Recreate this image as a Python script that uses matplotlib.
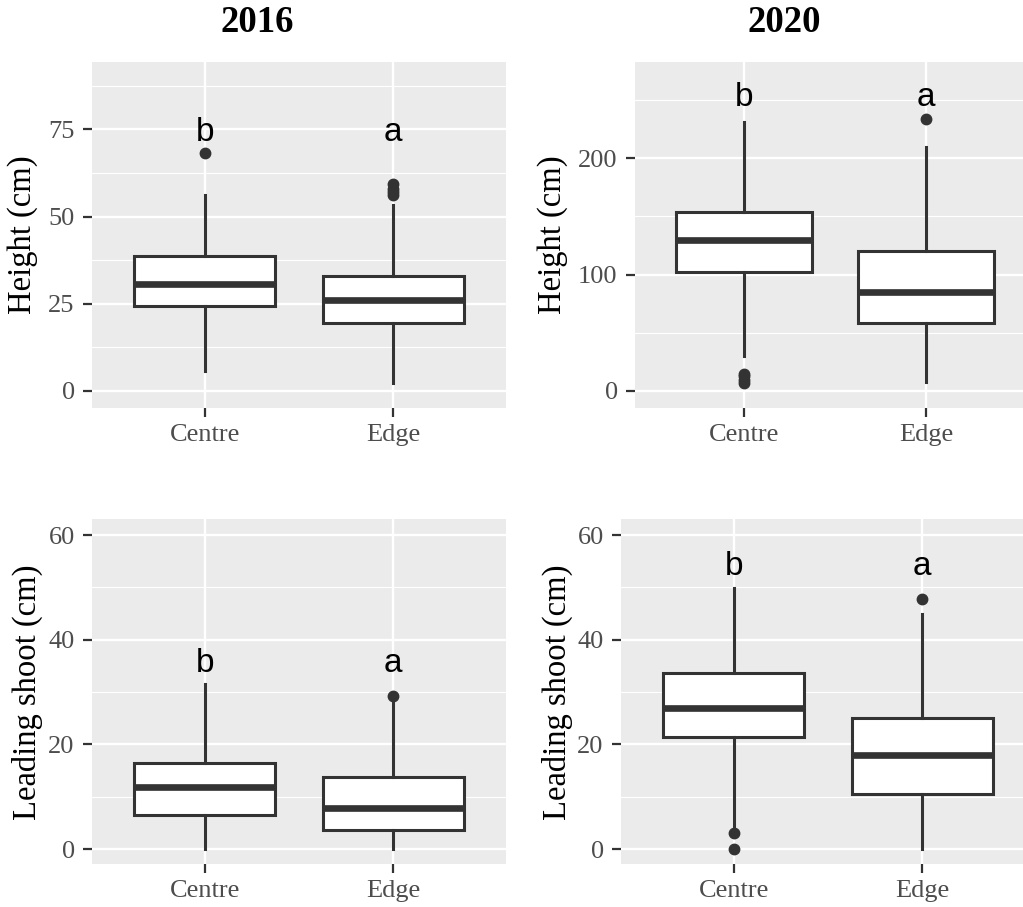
import matplotlib
matplotlib.use("Agg")
import matplotlib.pyplot as plt
from matplotlib.ticker import MultipleLocator

# ---------------- data ----------------
categories = ["Centre", "Edge"]
years = ["2016", "2020"]

# Height 2016
h16_q1 = [24.4, 19.6]
h16_med = [30.6, 26.1]
h16_q3 = [38.7, 33.1]
h16_lo = [5.8, 2.2]
h16_hi = [56.2, 53.3]
h16_out = [[68.1], [56.3, 57.0, 58.0, 59.2]]
h16_letters = ["b", "a"]
h16_letter_y = [71.8, 71.8]

# Height 2020
h20_q1 = [102.3, 58.2]
h20_med = [130.0, 84.8]
h20_q3 = [154.1, 120.3]
h20_lo = [30.1, 8.0]
h20_hi = [231.5, 209.4]
h20_out = [[6.6, 9.5, 12.5, 14.6], [233.8]]
h20_letters = ["b", "a"]
h20_letter_y = [245.0, 245.0]

# Leading shoot 2016
l16_q1 = [6.6, 3.6]
l16_med = [11.8, 7.9]
l16_q3 = [16.5, 13.7]
l16_lo = [0.0, 0.0]
l16_hi = [31.5, 28.6]
l16_out = [[], [29.3]]
l16_letters = ["b", "a"]
l16_letter_y = [33.9, 33.9]

# Leading shoot 2020
l20_q1 = [21.4, 10.6]
l20_med = [26.9, 17.9]
l20_q3 = [33.6, 25.05]
l20_lo = [3.6, 0.0]
l20_hi = [49.8, 44.9]
l20_out = [[3.0, 0.0], [47.8]]
l20_letters = ["b", "a"]
l20_letter_y = [52.3, 52.3]

height_ticks = [0, 25, 50, 75]
height20_ticks = [0, 100, 200]
shoot_ticks = [0, 20, 40, 60]

# ---------------- style ----------------
W, H = 1023, 907
DPI = 100
BG = "#EBEBEB"
DARK = "#333333"
TICKGRAY = "#4D4D4D"
SERIF = ["Liberation Serif", "DejaVu Serif"]
SANS = ["Liberation Sans", "DejaVu Sans"]

fig = plt.figure(figsize=(W / DPI, H / DPI), dpi=DPI)


def px_axes(left, top, right, bottom):
    return fig.add_axes([left / W, 1 - bottom / H, (right - left) / W, (bottom - top) / H])


def panel(ax, q1, med, q3, lo, hi, out, letters, letter_y, ylim, major, minor,
          ylabel, label_x_px, left_px, width_px):
    stats = []
    for i, c in enumerate(categories):
        stats.append(dict(label=c, q1=q1[i], med=med[i], q3=q3[i],
                          whislo=lo[i], whishi=hi[i], fliers=out[i]))
    ax.set_facecolor(BG)
    ax.set_axisbelow(True)
    ax.bxp(stats, positions=[1, 2], widths=0.75, patch_artist=True,
           showcaps=False,
           boxprops=dict(facecolor="white", edgecolor=DARK, linewidth=2.2),
           whiskerprops=dict(color=DARK, linewidth=2.2),
           medianprops=dict(color=DARK, linewidth=4.8, solid_capstyle="butt"),
           flierprops=dict(marker="o", markerfacecolor=DARK, markeredgecolor=DARK,
                           markersize=7.5, linestyle="none"))
    for i, (t, y) in enumerate(zip(letters, letter_y)):
        ax.text(i + 1, y, t, ha="center", va="baseline", fontsize=24,
                family=SANS, color="black")
    ax.set_xlim(0.4, 2.6)
    ax.set_ylim(*ylim)
    ax.yaxis.set_major_locator(MultipleLocator(major))
    ax.yaxis.set_minor_locator(MultipleLocator(minor))
    ax.set_xticks([1, 2])
    ax.set_xticklabels(categories)
    ax.grid(which="major", color="white", linewidth=1.7)
    ax.grid(which="minor", axis="y", color="white", linewidth=0.85)
    ax.tick_params(which="major", length=6.5, width=1.6, color=DARK,
                   labelsize=19, labelcolor=TICKGRAY)
    ax.tick_params(axis="y", pad=6)
    ax.tick_params(axis="x", pad=5)
    ax.tick_params(which="minor", length=0)
    for lab in ax.get_xticklabels() + ax.get_yticklabels():
        lab.set_family(SERIF)
    for s in ax.spines.values():
        s.set_visible(False)
    ax.set_ylabel(ylabel, fontsize=23.5, family=SERIF, color="black")
    ax.yaxis.label.set_va("center")
    ax.yaxis.set_label_coords((label_x_px - left_px) / width_px, 0.5)


ax1 = px_axes(92, 61.7, 506, 407.7)
panel(ax1, h16_q1, h16_med, h16_q3, h16_lo, h16_hi, h16_out, h16_letters, h16_letter_y,
      (-4.8, 94.4), 25, 12.5, "Height (cm)", 23, 92, 414)

ax2 = px_axes(635, 61.7, 1035, 407.7)
panel(ax2, h20_q1, h20_med, h20_q3, h20_lo, h20_hi, h20_out, h20_letters, h20_letter_y,
      (-14.4, 283.0), 100, 50, "Height (cm)", 553, 635, 400)

ax3 = px_axes(92, 519.3, 506, 864.3)
panel(ax3, l16_q1, l16_med, l16_q3, l16_lo, l16_hi, l16_out, l16_letters, l16_letter_y,
      (-2.9, 63.0), 20, 10, "Leading shoot (cm)", 27, 92, 414)

ax4 = px_axes(621, 519.3, 1035, 864.3)
panel(ax4, l20_q1, l20_med, l20_q3, l20_lo, l20_hi, l20_out, l20_letters, l20_letter_y,
      (-2.9, 63.0), 20, 10, "Leading shoot (cm)", 557, 621, 414)

fig.text(257 / W, 1 - 23 / H, years[0], ha="center", va="center", fontsize=26.5,
         fontweight="bold", family=SERIF)
fig.text(784 / W, 1 - 23 / H, years[1], ha="center", va="center", fontsize=26.5,
         fontweight="bold", family=SERIF)

fig.savefig("out.png", dpi=DPI)
